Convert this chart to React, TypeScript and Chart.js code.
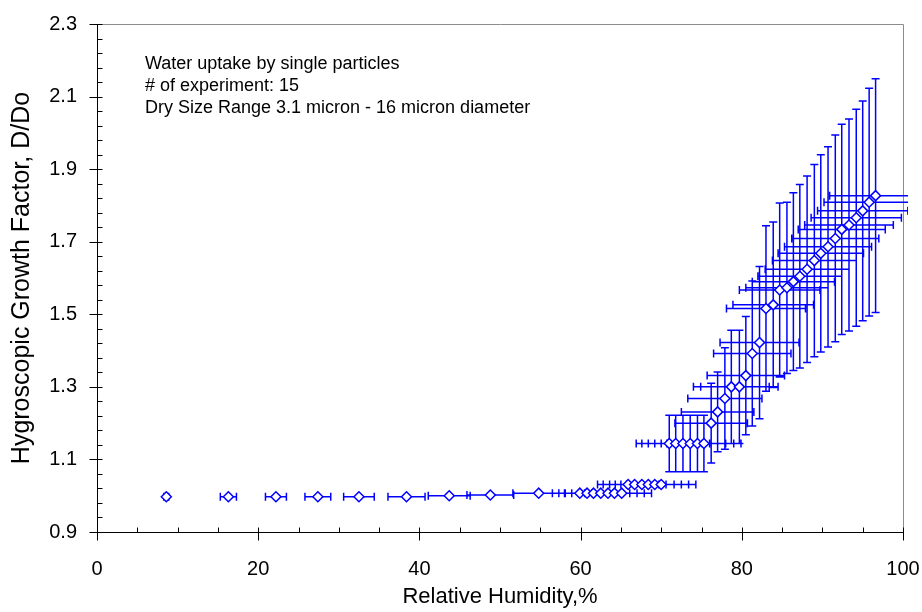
import React, { useEffect, useRef } from "react";
import { Chart, registerables } from "chart.js";

Chart.register(...registerables);

// Relative humidity (%) of each measurement
const rh = [
  8.6, 16.3, 22.2, 27.4, 32.5, 38.4, 43.7, 48.8, 54.8,
  59.9, 60.8, 61.6, 62.5, 63.4, 64.2, 65.1,
  65.9, 66.7, 67.6, 68.4, 69.2, 70.0,
  71.0, 71.8, 72.7, 73.6, 74.5, 75.3,
  76.2, 77.0, 77.9, 78.7, 79.7, 80.5, 81.3, 82.2, 83.0, 83.9, 84.7, 85.6,
  86.4, 87.2, 88.1, 89.0, 89.8, 90.7, 91.6, 92.4, 93.3, 94.2, 95.0, 95.8, 96.6,
];

// Hygroscopic growth factor D/Do
const growth = [
  0.997, 0.997, 0.997, 0.997, 0.997, 0.997, 1.0, 1.002, 1.007,
  1.007, 1.007, 1.007, 1.007, 1.007, 1.007, 1.007,
  1.031, 1.031, 1.031, 1.031, 1.031, 1.031,
  1.144, 1.144, 1.144, 1.144, 1.144, 1.144,
  1.2, 1.231, 1.268, 1.3, 1.3, 1.331, 1.392, 1.422, 1.516, 1.526, 1.567, 1.573,
  1.59, 1.605, 1.624, 1.648, 1.668, 1.686, 1.709, 1.734, 1.746, 1.766, 1.785, 1.809, 1.827,
];

// Symmetric uncertainty in RH (%)
const rhErr = [
  0.3, 1.0, 1.3, 1.6, 1.9, 2.3, 2.6, 2.9, 3.2,
  3.4, 3.5, 3.5, 3.6, 3.6, 3.7, 3.7,
  3.8, 3.9, 4.0, 4.1, 4.2, 4.3,
  4.1, 4.2, 4.3, 4.4, 4.5, 4.6,
  4.5, 4.5, 4.6, 4.7, 4.8, 4.8, 4.8, 4.9, 4.9, 5.0, 5.0, 5.1,
  5.1, 5.2, 5.2, 5.2, 5.3, 5.4, 5.4, 5.4, 5.5, 5.6, 5.6, 5.6, 5.7,
];

// Symmetric uncertainty in growth factor
const growthErr = [
  0, 0, 0, 0, 0, 0, 0, 0, 0,
  0, 0, 0, 0, 0, 0, 0,
  0, 0, 0, 0, 0, 0,
  0.078, 0.078, 0.078, 0.078, 0.078, 0.078,
  0.11, 0.11, 0.14, 0.156, 0.156, 0.163, 0.2, 0.21, 0.228, 0.228, 0.24, 0.236,
  0.245, 0.253, 0.257, 0.265, 0.272, 0.276, 0.285, 0.29, 0.292, 0.299, 0.303, 0.314, 0.322,
];

const xTicks = [0, 20, 40, 60, 80, 100];
const yTicks = [0.9, 1.1, 1.3, 1.5, 1.7, 1.9, 2.1, 2.3];
const xMinorStep = 5;
const yMinorStep = 0.04;

const noteLines = [
  "Water uptake by single particles",
  "# of experiment: 15",
  "Dry Size Range 3.1 micron - 16 micron diameter",
];

const BLUE = "#0000ff";
const FONT = "'Liberation Sans', Arial, sans-serif";

const framePlugin = {
  id: "frameAndErrors",
  beforeDatasetsDraw(chart: any) {
    const { ctx, chartArea: a, scales } = chart;
    const xs = scales.x;
    const ys = scales.y;
    ctx.save();
    // frame
    ctx.lineWidth = 1;
    ctx.strokeStyle = "#8c8c8c";
    ctx.beginPath();
    ctx.moveTo(Math.round(a.left) + 0.5, Math.round(a.top) + 0.5);
    ctx.lineTo(Math.round(a.right) + 0.5, Math.round(a.top) + 0.5);
    ctx.lineTo(Math.round(a.right) + 0.5, Math.round(a.bottom) + 0.5);
    ctx.stroke();
    ctx.strokeStyle = "#000";
    ctx.beginPath();
    ctx.moveTo(Math.round(a.left) + 0.5, Math.round(a.top) + 0.5);
    ctx.lineTo(Math.round(a.left) + 0.5, Math.round(a.bottom) + 0.5);
    ctx.lineTo(Math.round(a.right) + 0.5, Math.round(a.bottom) + 0.5);
    ctx.stroke();

    // x ticks
    const by = Math.round(a.bottom) + 0.5;
    ctx.beginPath();
    for (let v = xs.min; v <= xs.max + 1e-9; v += xMinorStep) {
      const px = Math.round(xs.getPixelForValue(v)) + 0.5;
      const major = xTicks.some((t) => Math.abs(t - v) < 1e-6);
      ctx.moveTo(px, by - 5);
      ctx.lineTo(px, major ? by + 8 : by);
    }
    // y ticks
    const lx = Math.round(a.left) + 0.5;
    const n = Math.round((ys.max - ys.min) / yMinorStep);
    for (let k = 0; k <= n; k++) {
      const v = ys.min + k * yMinorStep;
      const py = Math.round(ys.getPixelForValue(v)) + 0.5;
      const major = yTicks.some((t) => Math.abs(t - v) < 1e-6);
      ctx.moveTo(major ? lx - 8 : lx, py);
      ctx.lineTo(lx + 5, py);
    }
    ctx.stroke();

    // error bars
    ctx.beginPath();
    ctx.rect(a.left - 6, a.top - 6, a.right - a.left + 11, a.bottom - a.top + 12);
    ctx.clip();
    ctx.strokeStyle = BLUE;
    ctx.lineWidth = 1.5;
    const cap = 4;
    ctx.beginPath();
    for (let i = 0; i < rh.length; i++) {
      const px = xs.getPixelForValue(rh[i]);
      const py = ys.getPixelForValue(growth[i]);
      if (rhErr[i] > 0) {
        const x1 = xs.getPixelForValue(rh[i] - rhErr[i]);
        const x2 = xs.getPixelForValue(rh[i] + rhErr[i]);
        ctx.moveTo(x1, py);
        ctx.lineTo(x2, py);
        ctx.moveTo(x1, py - cap);
        ctx.lineTo(x1, py + cap);
        ctx.moveTo(x2, py - cap);
        ctx.lineTo(x2, py + cap);
      }
      if (growthErr[i] > 0) {
        const y1 = ys.getPixelForValue(growth[i] - growthErr[i]);
        const y2 = ys.getPixelForValue(growth[i] + growthErr[i]);
        ctx.moveTo(px, y1);
        ctx.lineTo(px, y2);
        ctx.moveTo(px - cap, y1);
        ctx.lineTo(px + cap, y1);
        ctx.moveTo(px - cap, y2);
        ctx.lineTo(px + cap, y2);
      }
    }
    ctx.stroke();
    ctx.restore();
  },
  afterDraw(chart: any) {
    const { ctx } = chart;
    ctx.save();
    ctx.fillStyle = "#000";
    ctx.font = `18px ${FONT}`;
    ctx.textAlign = "left";
    ctx.textBaseline = "middle";
    noteLines.forEach((t, i) => ctx.fillText(t, 145, 64 + i * 22));
    ctx.restore();
  },
};

export default function App() {
  const ref = useRef<HTMLCanvasElement | null>(null);
  useEffect(() => {
    if (!ref.current) return;
    const points = rh.map((x, i) => ({ x, y: growth[i] }));
    const chart = new Chart(ref.current, {
      type: "scatter",
      data: {
        datasets: [
          {
            label: "Water uptake",
            data: points,
            pointStyle: "rectRot",
            pointRadius: 5,
            pointHoverRadius: 5,
            backgroundColor: "#ffffff",
            borderColor: BLUE,
            borderWidth: 1.5,
            showLine: false,
          },
        ],
      },
      options: {
        responsive: false,
        animation: false,
        devicePixelRatio: 1,
        layout: { padding: { top: 24, right: 19, left: 0, bottom: 0 } },
        plugins: { legend: { display: false }, tooltip: { enabled: false } },
        scales: {
          x: {
            type: "linear",
            min: 0,
            max: 100,
            grid: { display: false },
            border: { display: false },
            afterBuildTicks: (s: any) => {
              s.ticks = xTicks.map((v) => ({ value: v }));
            },
            afterFit: (s: any) => {
              s.height = 80;
              s.paddingLeft = 0;
              s.paddingRight = 0;
            },
            ticks: {
              color: "#000",
              padding: 17,
              maxRotation: 0,
              font: { family: FONT, size: 20 },
              callback: (v: any) => String(v),
            },
            title: {
              display: true,
              text: "Relative Humidity,%",
              color: "#000",
              font: { family: FONT, size: 22 },
              padding: { top: 0, bottom: 1.5 },
            },
          },
          y: {
            type: "linear",
            min: 0.9,
            max: 2.3,
            grid: { display: false },
            border: { display: false },
            afterBuildTicks: (s: any) => {
              s.ticks = yTicks.map((v) => ({ value: v }));
            },
            afterFit: (s: any) => {
              s.width = 97;
              s.paddingTop = 0;
              s.paddingBottom = 0;
            },
            ticks: {
              color: "#000",
              padding: 12,
              font: { family: FONT, size: 20 },
              callback: (v: any) => Number(v).toFixed(1),
            },
            title: {
              display: true,
              text: "Hygroscopic Growth Factor, D/Do",
              color: "#000",
              font: { family: FONT, size: 25 },
              padding: { top: 7, bottom: 0 },
            },
          },
        },
      },
      plugins: [framePlugin],
    });
    return () => chart.destroy();
  }, []);
  return (
    <div style={{ position: "absolute", left: 0, top: 0, width: 922, height: 612, background: "#fff" }}>
      <canvas ref={ref} width={922} height={612} />
    </div>
  );
}
